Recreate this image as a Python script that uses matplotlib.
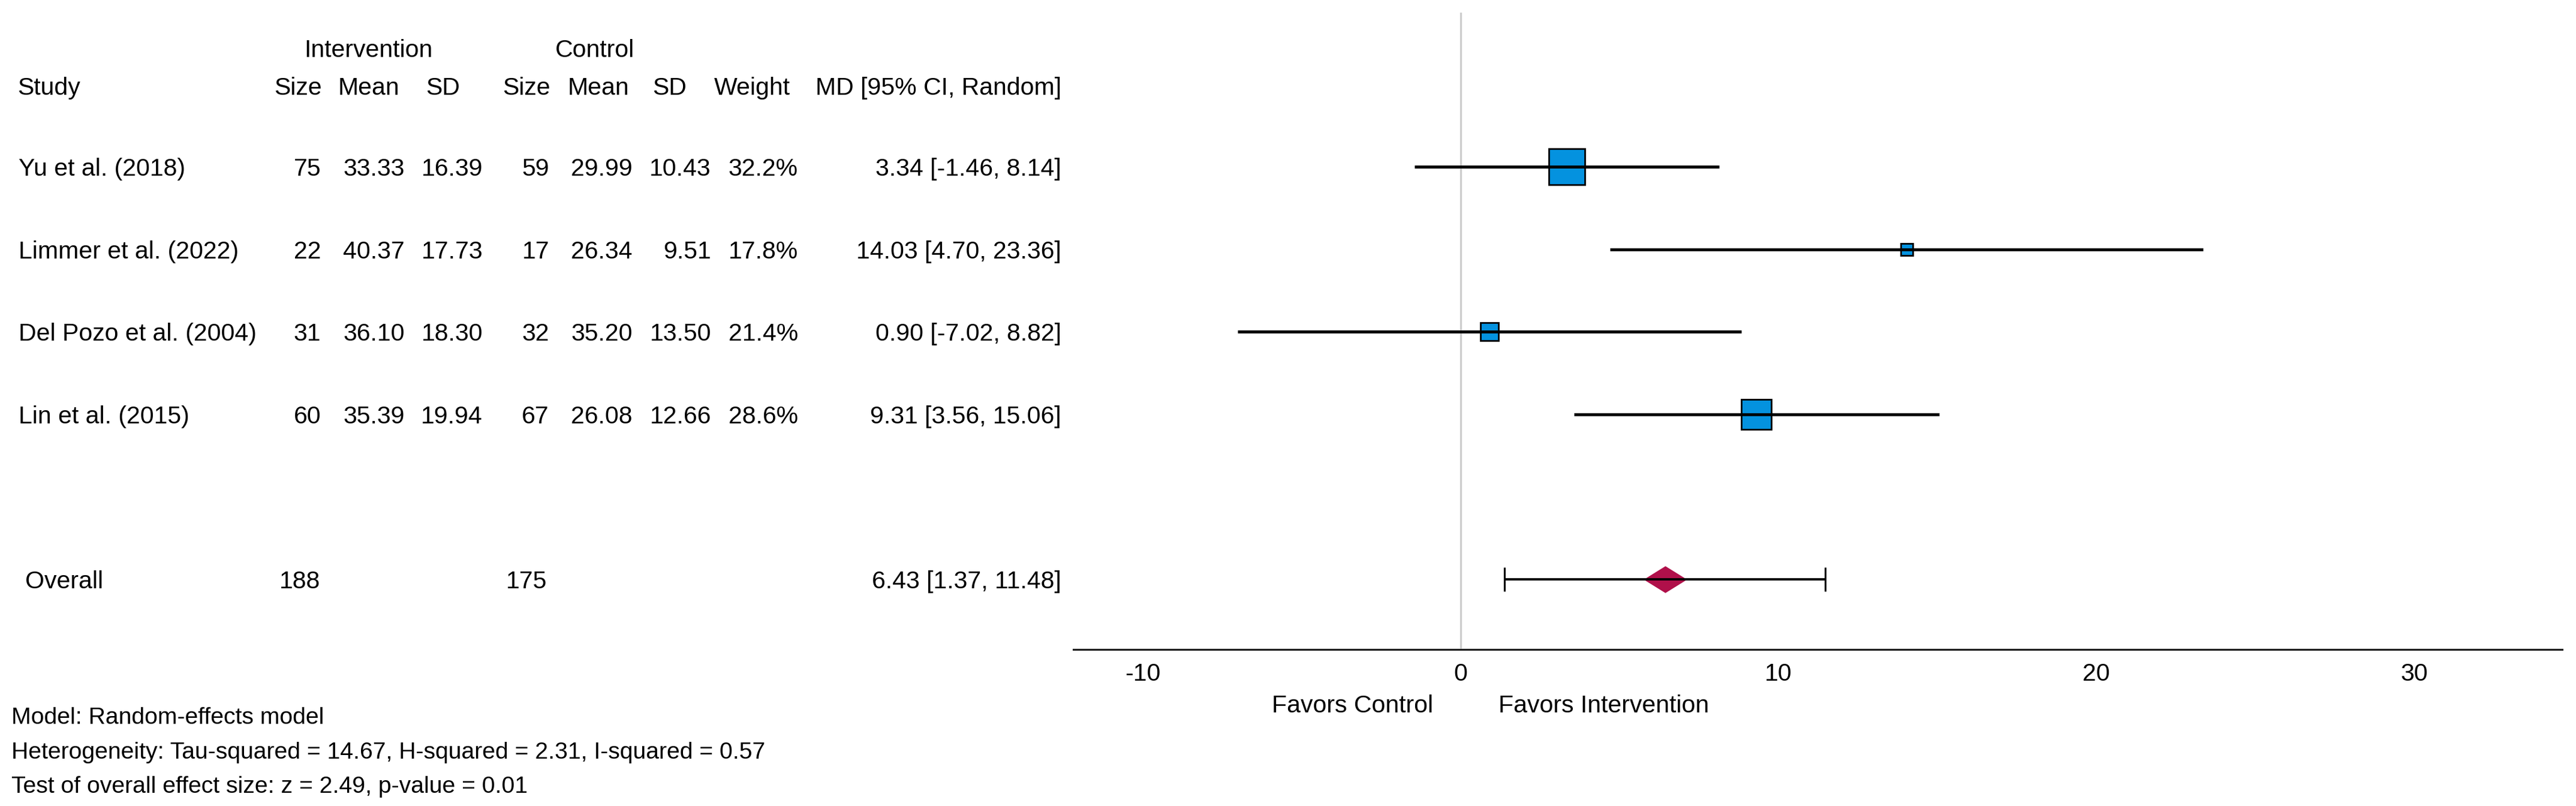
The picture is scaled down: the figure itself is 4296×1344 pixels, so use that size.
import matplotlib
matplotlib.use("Agg")
import matplotlib.pyplot as plt
from matplotlib.transforms import blended_transform_factory
from matplotlib.path import Path

plt.rcParams['font.family'] = ['Liberation Sans', 'DejaVu Sans']

# ---------------- data ----------------
studies = ["Yu et al. (2018)", "Limmer et al. (2022)", "Del Pozo et al. (2004)", "Lin et al. (2015)"]
int_n = [75, 22, 31, 60]
int_mean = ["33.33", "40.37", "36.10", "35.39"]
int_sd = ["16.39", "17.73", "18.30", "19.94"]
ctrl_n = [59, 17, 32, 67]
ctrl_mean = ["29.99", "26.34", "35.20", "26.08"]
ctrl_sd = ["10.43", "9.51", "13.50", "12.66"]
weights = [32.2, 17.8, 21.4, 28.6]
md = [3.34, 14.03, 0.90, 9.31]
ci_low = [-1.46, 4.70, -7.02, 3.56]
ci_high = [8.14, 23.36, 8.82, 15.06]

overall_int_n = 188
overall_ctrl_n = 175
overall_md = 6.43
overall_low = 1.37
overall_high = 11.48

xticks = [-10, 0, 10, 20, 30]
footer = ["Model: Random-effects model",
          "Heterogeneity: Tau-squared = 14.67, H-squared = 2.31, I-squared = 0.57",
          "Test of overall effect size: z = 2.49, p-value = 0.01"]

# ---------------- layout ----------------
W, H = 4296, 1344
FS = 29.5
FS_FOOT = 28.2
fig = plt.figure(figsize=(W / 100, H / 100), dpi=100)
fig.patch.set_facecolor('white')

def fx(px):
    return px / W

def fy(py):
    return 1 - py / H

ax = fig.add_axes([fx(1790), fy(1083), fx(4273) - fx(1790), (1083 - 21) / H])
ax.set_xlim(-12.19, 34.66)
ax.set_ylim(5.846, -1.866)

rows = list(range(len(studies)))
overall_row = len(studies) + 1

BLUE = '#0492DF'
RED = '#B0104A'

# zero line
ax.axvline(0, color='#CCCCCC', lw=2.2, zorder=1)

# study CIs and squares
wmin, wmax = min(weights), max(weights)
for i, r in enumerate(rows):
    ax.plot([ci_low[i], ci_high[i]], [r, r], color='black', lw=3.6,
            solid_capstyle='butt', zorder=3)
    side_px = 22 + (weights[i] - wmin) / (wmax - wmin) * 41
    ax.plot([md[i]], [r], marker='s', ms=side_px * 0.72 - 2, mfc=BLUE,
            mec='black', mew=2, linestyle='none', zorder=2)

# overall
ax.errorbar([overall_md], [overall_row],
            xerr=[[overall_md - overall_low], [overall_high - overall_md]],
            fmt='none', ecolor='black', elinewidth=2.8, capsize=14.5, capthick=2.2, zorder=3)
diamond = Path([(-1, 0), (0, 0.62), (1, 0), (0, -0.62), (-1, 0)],
               [Path.MOVETO, Path.LINETO, Path.LINETO, Path.LINETO, Path.CLOSEPOLY])
ax.plot([overall_md], [overall_row], marker=diamond, ms=52, mfc=RED, mec='none',
        linestyle='none', zorder=2)

# axes styling
for s in ['left', 'top', 'right']:
    ax.spines[s].set_visible(False)
ax.spines['bottom'].set_linewidth(2.2)
ax.spines['bottom'].set_color('#1a1a1a')
ax.set_yticks([])
ax.set_xticks(xticks)
ax.set_xticklabels([str(t) for t in xticks])
ax.tick_params(axis='x', length=0, pad=16, labelsize=FS, colors='black')

# favors labels
fav_tr = blended_transform_factory(ax.transData, fig.transFigure)
ax.annotate("Favors Control", xy=(0, fy(1173)), xycoords=fav_tr,
            xytext=(-46, 0), textcoords='offset pixels',
            ha='right', va='center_baseline', fontsize=FS)
ax.annotate("Favors Intervention", xy=(0, fy(1173)), xycoords=fav_tr,
            xytext=(63, 0), textcoords='offset pixels',
            ha='left', va='center_baseline', fontsize=FS)

# table text
tr = blended_transform_factory(fig.transFigure, ax.transData)

def t(px, y, s, ha):
    fig.text(fx(px), y, s, transform=tr, ha=ha, va='center_baseline', fontsize=FS)

hy1, hy2 = -1.44, -0.98
t(614, hy1, "Intervention", 'center')
t(992, hy1, "Control", 'center')
t(29, hy2, "Study", 'left')
t(497, hy2, "Size", 'center')
t(615, hy2, "Mean", 'center')
t(739, hy2, "SD", 'center')
t(878, hy2, "Size", 'center')
t(998, hy2, "Mean", 'center')
t(1117, hy2, "SD", 'center')
t(1254, hy2, "Weight", 'center')
t(1770, hy2, "MD [95% CI, Random]", 'right')

for i, r in enumerate(rows):
    t(31, r, studies[i], 'left')
    t(535, r, str(int_n[i]), 'right')
    t(675, r, int_mean[i], 'right')
    t(805, r, int_sd[i], 'right')
    t(916, r, str(ctrl_n[i]), 'right')
    t(1055, r, ctrl_mean[i], 'right')
    t(1186, r, ctrl_sd[i], 'right')
    t(1331, r, f"{weights[i]:.1f}%", 'right')
    t(1770, r, f"{md[i]:.2f} [{ci_low[i]:.2f}, {ci_high[i]:.2f}]", 'right')

t(42, overall_row, "Overall", 'left')
t(500, overall_row, str(overall_int_n), 'center')
t(878, overall_row, str(overall_ctrl_n), 'center')
t(1770, overall_row, f"{overall_md:.2f} [{overall_low:.2f}, {overall_high:.2f}]", 'right')

for s, py in zip(footer, [1193, 1251, 1308]):
    fig.text(fx(19), fy(py), s, ha='left', va='center_baseline', fontsize=FS_FOOT)

fig.savefig("out.png", dpi=100, facecolor='white')
